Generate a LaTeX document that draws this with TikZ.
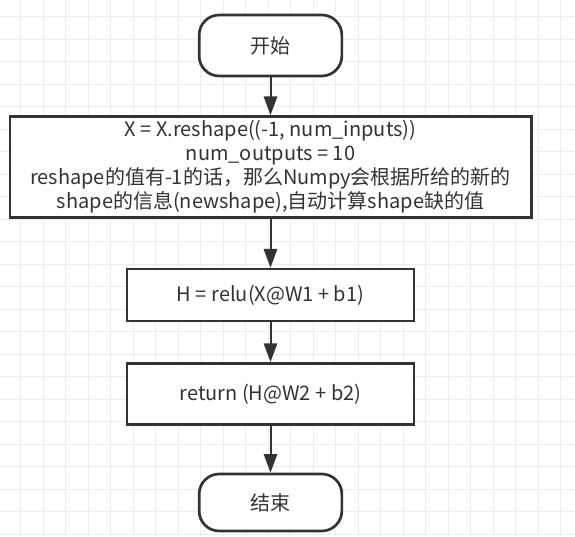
\documentclass[tikz,border=0pt]{standalone}
\usepackage{fontspec}
\setmainfont{Noto Sans CJK SC}
\usetikzlibrary{arrows.meta}
\definecolor{linegray}{HTML}{333333}
\definecolor{gridgray}{HTML}{EDEDED}

\begin{document}
\begin{tikzpicture}[x=0.75pt,y=0.75pt,
    font=\fontsize{15}{18}\selectfont,
    box/.style={draw=linegray,line width=2pt,fill=white,text=linegray,
      align=center,inner sep=0pt},
    term/.style={box,rounded corners=15pt,minimum width=107pt},
    flow/.style={draw=linegray,line width=1.5pt,
      -{Triangle[length=14pt,width=10pt]}}]
  \useasboundingbox (0,0) rectangle (575,536);

  % background grid
  \foreach \gx in {0,...,24}
    \draw[gridgray,line width=0.75pt] (20.7+22.5*\gx,0) -- (20.7+22.5*\gx,536);
  \foreach \gy in {0,...,23}
    \draw[gridgray,line width=0.75pt] (0,519.3-22.5*\gy) -- (575,519.3-22.5*\gy);

  \node[term,minimum height=45.75pt] (start) at (270.5,490.5) {开始};
  \node[box,minimum width=391pt,minimum height=75.75pt] (prep) at (270.5,369)
    {X = X.reshape((-1, num\_inputs))\\
     num\_outputs = 10\\
     reshape的值有-1的话，那么Numpy会根据所给的新的\\
     shape的信息(newshape),自动计算shape缺的值};
  \node[box,minimum width=215.25pt,minimum height=39pt] (hidden) at (270.5,241)
    {H = relu(X@W1 + b1)};
  \node[box,minimum width=215.25pt,minimum height=46pt] (output) at (270.5,142)
    {return (H@W2 + b2)};
  \node[term,minimum height=42.75pt] (stop) at (270.5,33.5) {结束};

  \draw[flow] (start) -- (prep);
  \draw[flow] (prep) -- (hidden);
  \draw[flow] (hidden) -- (output);
  \draw[flow] (output) -- (stop);
\end{tikzpicture}
\end{document}
